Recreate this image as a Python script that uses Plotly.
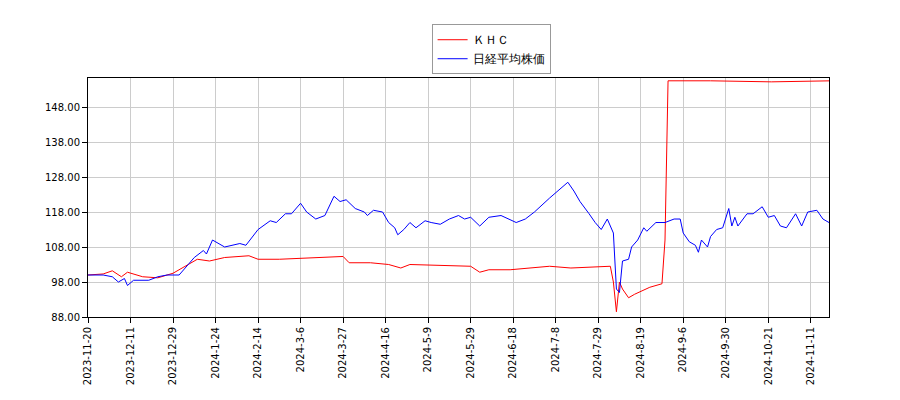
import plotly.graph_objects as go

tick_labels = ["2023-11-20", "2023-12-11", "2023-12-29", "2024-1-24", "2024-2-14", "2024-3-6",
               "2024-3-27", "2024-4-16", "2024-5-9", "2024-5-29", "2024-6-18", "2024-7-8",
               "2024-7-29", "2024-8-19", "2024-9-6", "2024-9-30", "2024-10-21", "2024-11-11"]
tick_idx = [i * 14 for i in range(len(tick_labels))]

khc_x = [0, 5, 8, 11, 13, 18, 23, 28, 33, 36, 40, 45, 53, 56, 63, 73, 79, 84, 86, 93, 99, 103,
         106, 116, 126, 129, 132, 139, 146, 152, 159, 169, 172, 173, 174, 175, 176, 178, 180,
         185, 189, 190, 191, 205, 225, 245]
khc_y = [100, 100.3, 101.2, 99.5, 100.8, 99.5, 99.2, 100.5, 103, 104.5, 104, 105, 105.5, 104.5,
         104.5, 104.8, 105, 105.3, 103.5, 103.5, 103, 102, 103, 102.8, 102.5, 100.8, 101.5,
         101.5, 102, 102.5, 102, 102.5, 102.5, 98, 89.5, 98, 96, 93.5, 94.5, 96.5, 97.5, 110,
         155.5, 155.5, 155.2, 155.5]

nikkei_x = [0, 5, 8, 10, 12, 13, 15, 20, 23, 26, 30, 32, 35, 38, 39, 41, 45, 50, 52, 56, 60, 62,
            65, 67, 70, 72, 75, 78, 81, 83, 85, 88, 91, 92, 94, 97, 99, 101, 102, 104, 106, 108,
            111, 113, 116, 119, 122, 124, 126, 129, 132, 136, 141, 144, 147, 152, 156, 158, 160,
            162, 165, 167, 169, 171, 173, 174, 175, 176, 178, 179, 181, 183, 184, 187, 190, 193,
            195, 196, 198, 200, 201, 202, 204, 205, 207, 209, 211, 212, 213, 214, 217, 219, 222,
            224, 226, 228, 230, 232, 233, 235, 237, 240, 242, 243, 245]
nikkei_y = [100, 100, 99.5, 98, 99, 97, 98.5, 98.5, 99.5, 100, 100, 102, 105, 107, 106, 110, 108,
            109, 108.5, 113, 115.5, 115, 117.5, 117.5, 120.5, 118, 116, 117, 122.5, 121, 121.5,
            119, 118, 117, 118.5, 118, 115, 113.5, 111.5, 113, 115, 113.5, 115.5, 115, 114.5,
            116, 117, 116, 116.5, 114, 116.5, 117, 115, 116, 118, 122, 125, 126.5, 124, 121,
            117.5, 115, 113, 116, 112, 96, 95, 104, 104.5, 108, 110, 113.5, 112.5, 115, 115, 116,
            116, 112, 109.5, 108.5, 106.5, 110, 108, 111, 113, 113.5, 119, 114, 116.5, 114,
            117.5, 117.5, 119.5, 116.5, 117, 114, 113.5, 116, 117.5, 114, 118, 118.5, 116, 115.5,
            114.5]

fig = go.Figure()
fig.add_trace(go.Scatter(x=khc_x, y=khc_y, mode="lines", name="ＫＨＣ",
                         line=dict(color="red", width=1)))
fig.add_trace(go.Scatter(x=nikkei_x, y=nikkei_y, mode="lines", name="日経平均株価",
                         line=dict(color="blue", width=1)))

axis_common = dict(showgrid=True, gridcolor="#cccccc", showline=True, linecolor="black",
                   mirror=True, ticks="outside", tickcolor="black", zeroline=False,
                   automargin=False)
fig.update_xaxes(range=[0, 244], tickvals=tick_idx, ticktext=tick_labels, tickangle=-90,
                 **axis_common)
fig.update_yaxes(range=[88, 156.3], tickvals=[88, 98, 108, 118, 128, 138, 148],
                 tickformat=".2f", **axis_common)
fig.update_layout(
    width=900, height=400, plot_bgcolor="white", paper_bgcolor="white",
    margin=dict(l=80, r=79, t=70, b=91),
    font=dict(family="DejaVu Sans", size=10, color="black"),
    legend=dict(x=0.544, y=1.225, xanchor="center", yanchor="top", bordercolor="#999999",
                borderwidth=1, font=dict(size=12), tracegroupgap=0),
)
fig.write_html("out.html")
